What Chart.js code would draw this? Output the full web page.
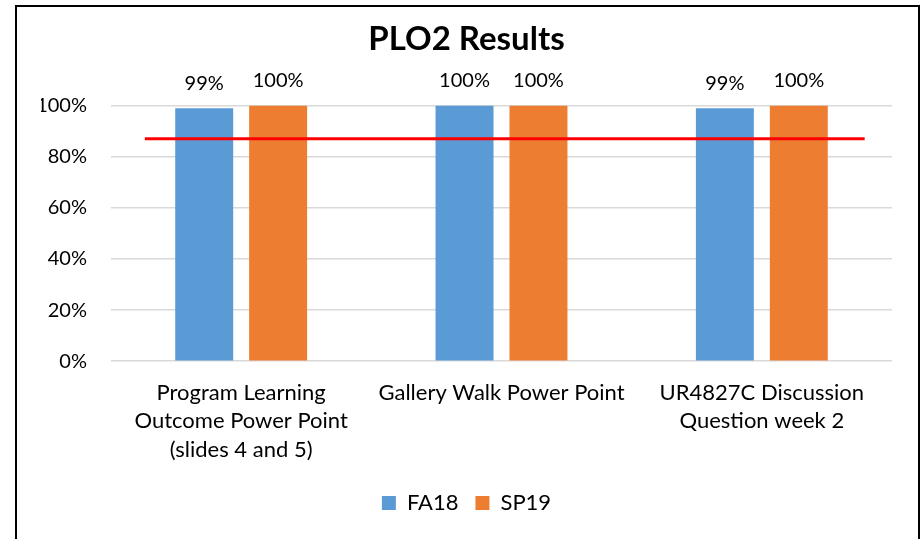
<!DOCTYPE html>
<html>
<head>
<meta charset="utf-8">
<script src="https://cdn.jsdelivr.net/npm/chart.js@4.4.1/dist/chart.umd.min.js"></script>
<style>
  html, body { margin: 0; padding: 0; background: #ffffff; }
  #wrap { position: relative; width: 923px; height: 539px; }
  #frame { position: absolute; left: 15px; top: 5px; width: 901px; height: 600px;
           border: 2px solid #000; border-bottom: none; pointer-events: none; }
  canvas { position: absolute; left: 0; top: 0; }
</style>
</head>
<body>
<div id="wrap">
  <canvas id="c" width="923" height="539"></canvas>
  <div id="frame"></div>
</div>
<script>
const categories = [
  ["Program Learning", "Outcome Power Point", "(slides 4 and 5)"],
  ["Gallery Walk Power Point"],
  ["UR4827C Discussion", "Question week 2"]
];
const seriesNames = ["FA18", "SP19"];
const fa18 = [99, 100, 99];
const sp19 = [100, 100, 100];
const targetValue = 87;
// start / end of the target line, in category-index units
const targetSpan = [-0.37, 2.395];
const yTicks = [0, 20, 40, 60, 80, 100];

const FONT = "Lato, 'Open Sans', sans-serif";

const labelPlugin = {
  id: 'valueLabels',
  afterDatasetsDraw(chart) {
    const ctx = chart.ctx;
    ctx.save();
    ctx.font = "20px " + FONT;
    ctx.fillStyle = "#000";
    ctx.textAlign = "center";
    ctx.textBaseline = "middle";
    chart.data.datasets.forEach((ds, di) => {
      const meta = chart.getDatasetMeta(di);
      meta.data.forEach((el, i) => {
        ctx.fillText(ds.data[i] + "%", el.x, el.y - 25);
      });
    });
    ctx.restore();
  }
};

const targetPlugin = {
  id: 'targetLine',
  afterDatasetsDraw(chart) {
    const xs = chart.scales.x, ys = chart.scales.y;
    const p0 = xs.getPixelForValue(0), p1 = xs.getPixelForValue(1);
    const step = p1 - p0;
    const xa = p0 + targetSpan[0] * step;
    const xb = p0 + targetSpan[1] * step;
    const y = ys.getPixelForValue(targetValue);
    const ctx = chart.ctx;
    ctx.save();
    ctx.strokeStyle = '#FF0000';
    ctx.lineWidth = 3;
    ctx.beginPath();
    ctx.moveTo(xa, y);
    ctx.lineTo(xb, y);
    ctx.stroke();
    ctx.restore();
  }
};

new Chart(document.getElementById('c'), {
  type: 'bar',
  data: {
    labels: categories,
    datasets: [
      { label: seriesNames[0], data: fa18, backgroundColor: '#5B9BD5' },
      { label: seriesNames[1], data: sp19, backgroundColor: '#ED7D31' }
    ]
  },
  options: {
    responsive: false,
    animation: false,
    datasets: { bar: { categoryPercentage: 0.568, barPercentage: 0.784 } },
    layout: { padding: { left: 41, right: 31, top: 0, bottom: 15 } },
    plugins: {
      title: { display: true, text: 'PLO2 Results', color: '#000',
               font: { family: FONT, size: 33, weight: 'bold' },
               padding: { top: 20, bottom: 46 } },
      legend: { position: 'bottom',
                labels: { color: '#000', font: { family: FONT, size: 22 },
                          boxWidth: 14, boxHeight: 14, padding: 17 } },
      tooltip: { enabled: false }
    },
    scales: {
      x: { type: 'category', offset: true,
           grid: { display: false },
           border: { display: false },
           afterFit: (s) => { s.height += 2; },
           ticks: { color: '#000', font: { family: FONT, size: 22, lineHeight: 1.3 },
                    maxRotation: 0, autoSkip: false, padding: 9 } },
      y: { min: 0, max: 100,
           afterBuildTicks: (s) => { s.ticks = yTicks.map(v => ({ value: v })); },
           afterFit: (s) => { s.width = 70; },
           grid: { color: '#D9D9D9', lineWidth: 1.5, drawTicks: false },
           border: { display: false },
           ticks: { color: '#000', font: { family: FONT, size: 20 }, padding: 24,
                    callback: (v) => v + '%' } }
    }
  },
  plugins: [labelPlugin, targetPlugin]
});
</script>
</body>
</html>
